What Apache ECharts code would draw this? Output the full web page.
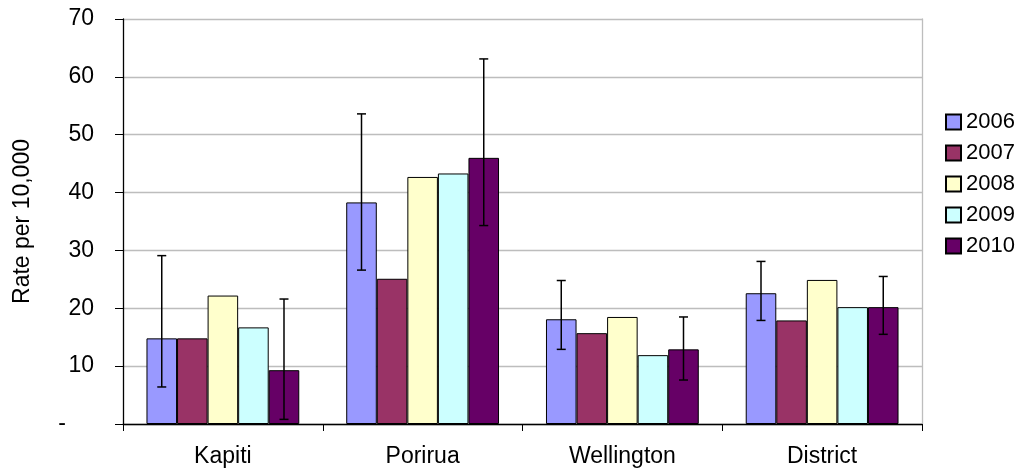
<!DOCTYPE html>
<html>
<head>
<meta charset="utf-8">
<script src="https://cdn.jsdelivr.net/npm/echarts@6/dist/echarts.min.js"></script>
<style>html,body{margin:0;padding:0;background:#fff;}#c{width:1026px;height:470px;}</style>
</head>
<body>
<div id="c"></div>
<script>
const categories = ['Kapiti', 'Porirua', 'Wellington', 'District'];
const years = ['2006', '2007', '2008', '2009', '2010'];
const v2006 = [14.8, 38.3, 18.1, 22.6];
const v2007 = [14.8, 25.1, 15.7, 17.9];
const v2008 = [22.2, 42.7, 18.5, 24.9];
const v2009 = [16.7, 43.3, 11.9, 20.2];
const v2010 = [9.3, 46.0, 12.9, 20.2];
const err2006Low = [6.4, 26.6, 12.9, 17.9];
const err2006High = [29.1, 53.6, 24.8, 28.1];
const err2010Low = [0.8, 34.3, 7.6, 15.5];
const err2010High = [21.6, 63.1, 18.5, 25.5];
const yTicks = { min: 0, max: 70, interval: 10 };

const colors = ['#9999FF', '#993366', '#FFFFCC', '#CCFFFF', '#660066'];
const values = [v2006, v2007, v2008, v2009, v2010];
const FONT = 'Liberation Sans';
const CAT_GAP = 0.235;

function errSeries(seriesPos, lows, highs) {
  return {
    type: 'custom',
    silent: true,
    z: 10,
    data: categories.map((c, i) => [i, lows[i], highs[i]]),
    encode: { x: 0, y: [1, 2] },
    renderItem: function (params, api) {
      const ci = api.value(0);
      const band = api.size([1, 0])[0];
      const barW = band * (1 - CAT_GAP) / 5;
      const base = api.coord([ci, 0])[0];
      const x = base + (seriesPos - 2) * barW;
      const yl = api.coord([ci, api.value(1)])[1];
      const yh = api.coord([ci, api.value(2)])[1];
      const cap = 4.5;
      const st = { stroke: '#000', lineWidth: 1.5 };
      return {
        type: 'group',
        children: [
          { type: 'line', shape: { x1: x, y1: yl, x2: x, y2: yh }, style: st },
          { type: 'line', shape: { x1: x - cap, y1: yl, x2: x + cap, y2: yl }, style: st },
          { type: 'line', shape: { x1: x - cap, y1: yh, x2: x + cap, y2: yh }, style: st }
        ]
      };
    }
  };
}

const series = years.map((y, i) => ({
  name: y,
  type: 'bar',
  data: values[i],
  barGap: '0%',
  barCategoryGap: (CAT_GAP * 100) + '%',
  itemStyle: { color: colors[i], borderColor: '#000', borderWidth: 1 }
}));
series.push(errSeries(0, err2006Low, err2006High));
series.push(errSeries(4, err2010Low, err2010High));

const chart = echarts.init(document.getElementById('c'), null, { renderer: 'canvas' });
chart.setOption({
  animation: false,
  backgroundColor: '#fff',
  textStyle: { fontFamily: FONT },
  grid: { left: 123, right: 104, top: 19, bottom: 46, containLabel: false, outerBoundsMode: 'none' },
  legend: {
    orient: 'vertical',
    left: 940,
    top: 106,
    itemWidth: 15,
    itemHeight: 15,
    itemGap: 9,
    icon: 'rect',
    data: years,
    textStyle: { fontFamily: FONT, fontSize: 22, color: '#000' }
  },
  xAxis: {
    type: 'category',
    data: categories,
    axisLine: { lineStyle: { color: '#000', width: 1.3 } },
    axisTick: { show: true, length: 7, lineStyle: { color: '#000' } },
    axisLabel: { fontFamily: FONT, fontSize: 23, color: '#000', margin: 21 },
    splitLine: { show: false }
  },
  yAxis: [{
    type: 'value',
    min: yTicks.min, max: yTicks.max, interval: yTicks.interval,
    name: 'Rate per 10,000',
    nameLocation: 'middle',
    nameRotate: 90,
    nameGap: 89,
    nameTextStyle: { fontFamily: FONT, fontSize: 23, color: '#000' },
    axisLine: { show: true, lineStyle: { color: '#000', width: 1.3 } },
    axisTick: { show: true, length: 8, lineStyle: { color: '#000' } },
    axisLabel: {
      fontFamily: FONT, fontSize: 23, color: '#000', margin: 29,
      formatter: function (v) { return v === 0 ? '{d|-}' : String(v); },
      rich: { d: { fontFamily: FONT, fontSize: 23, color: '#000', padding: [0, 28, 0, 0] } }
    },
    splitLine: { show: true, lineStyle: { color: '#BDBDBD', width: 1.3 } }
  }, {
    type: 'value',
    position: 'right',
    min: yTicks.min, max: yTicks.max, interval: yTicks.interval,
    axisLine: { show: true, lineStyle: { color: '#BDBDBD', width: 1.3 } },
    axisTick: { show: false },
    axisLabel: { show: false },
    splitLine: { show: false }
  }],
  series: series
});
</script>
</body>
</html>
